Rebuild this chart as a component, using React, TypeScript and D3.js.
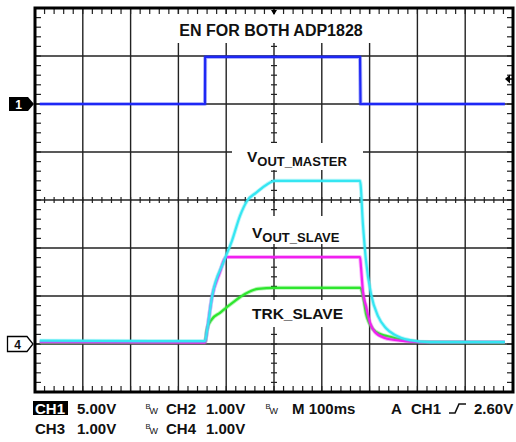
import React from "react";
import * as d3 from "d3";

// ---- data (time in ms, 100 ms/div; volts per channel) ----
const enT = [10, 355.6, 356, 680, 681, 983];
const enV = [0, 0, 4.9, 4.9, 0, 0];

const masterT = [10, 355.6, 359.8, 370.3, 395.4, 412, 428.9, 443.5, 462.3, 474.9, 502.1, 680, 686, 692.5, 703, 717.6, 734.3, 753, 784.5, 826.4, 983];
const masterV = [0.07, 0.06, 0.27, 0.98, 1.73, 2.15, 2.67, 2.98, 3.15, 3.25, 3.4, 3.4, 2.5, 1.73, 1.04, 0.58, 0.33, 0.19, 0.08, 0.04, 0.04];

const slaveT = [10, 355.6, 359.8, 370.3, 387, 395.4, 400, 680, 682, 686, 692.5, 701, 711, 732, 763.6, 805.4, 983];
const slaveV = [0.04, 0.03, 0.27, 0.98, 1.5, 1.75, 1.81, 1.81, 1.6, 1.1, 0.79, 0.44, 0.25, 0.125, 0.07, 0.04, 0.04];

const trkT = [10, 355.6, 359.8, 370.3, 387, 401.7, 418.4, 439.3, 466.5, 502, 680, 682, 688, 692.5, 699, 707, 722, 743, 763.6, 805, 983];
const trkV = [0.03, 0.03, 0.31, 0.52, 0.65, 0.77, 0.9, 1.04, 1.15, 1.17, 1.17, 1.15, 0.9, 0.63, 0.44, 0.31, 0.21, 0.15, 0.1, 0.04, 0.03];

const ch1Scale = 5; // V/div
const chScale = 1; // V/div
const ch1Offset = 2; // divisions above centre
const ch4Offset = -3;

const FONT = "'Liberation Sans', Arial, Helvetica, sans-serif";

const L = 35, T = 8, W = 478, H = 384;

export default function App() {
  const x = d3.scaleLinear().domain([0, 1000]).range([L, L + W]);
  const yd = d3.scaleLinear().domain([4, -4]).range([T, T + H]);
  const y1 = (v: number) => yd(ch1Offset + v / ch1Scale);
  const y4 = (v: number) => yd(ch4Offset + v / chScale);

  const mk = (ts: number[], vs: number[]) => ts.map((t, i) => [t, vs[i]] as [number, number]);
  const lineLin = (yf: (v: number) => number) =>
    d3.line<[number, number]>().x((d) => x(d[0])).y((d) => yf(d[1]));
  const lineSm = (yf: (v: number) => number) =>
    d3.line<[number, number]>().x((d) => x(d[0])).y((d) => yf(d[1])).curve(d3.curveMonotoneX);

  const majorX = d3.range(100, 1000, 100);
  const majorY = d3.range(-3, 4, 1);
  const minorX = d3.range(0, 1001, 20);
  const minorY = d3.range(-4, 4.001, 0.2);

  const traces = [
    { d: lineSm(y4)(mk(trkT, trkV)), c: "#2ee62e" },
    { d: lineSm(y4)(mk(slaveT, slaveV)), c: "#f020f0" },
    { d: lineSm(y4)(mk(masterT, masterV)), c: "#35e6f2" },
    { d: lineLin(y1)(mk(enT, enV)), c: "#1e28f5" },
  ];

  const boxes = [
    [175, 14, 200, 29],
    [232, 143, 131, 27],
    [244, 216, 108, 28],
    [245, 300, 105, 27],
  ];

  const tbold = { fontFamily: FONT, fontWeight: 700 as const, fill: "#111" };

  return (
    <div style={{ position: "fixed", left: 0, top: 0 }}>
      <svg width={516} height={442} style={{ display: "block", background: "#fff" }}>
        {/* grid */}
        <g stroke="#222" strokeWidth={1.4}>
          {majorX.map((t) => (
            <line key={"gx" + t} x1={x(t)} x2={x(t)} y1={T} y2={T + H} />
          ))}
          {majorY.map((v) => (
            <line key={"gy" + v} x1={L} x2={L + W} y1={yd(v)} y2={yd(v)} />
          ))}
        </g>
        {/* minor ticks */}
        <g stroke="#222" strokeWidth={1.2}>
          {minorX.map((t) => (
            <g key={"mx" + t}>
              <line x1={x(t)} x2={x(t)} y1={T} y2={T + 6} />
              <line x1={x(t)} x2={x(t)} y1={T + H - 6} y2={T + H} />
              <line x1={x(t)} x2={x(t)} y1={yd(0) - 3} y2={yd(0) + 3} />
            </g>
          ))}
          {minorY.map((v) => (
            <g key={"my" + v.toFixed(1)}>
              <line x1={L} x2={L + 6} y1={yd(v)} y2={yd(v)} />
              <line x1={L + W - 6} x2={L + W} y1={yd(v)} y2={yd(v)} />
              <line x1={x(500) - 3} x2={x(500) + 3} y1={yd(v)} y2={yd(v)} />
            </g>
          ))}
        </g>
        {/* label boxes hiding grid */}
        {boxes.map((b, i) => (
          <rect key={"b" + i} x={b[0]} y={b[1]} width={b[2]} height={b[3]} fill="#fff" />
        ))}
        {/* traces */}
        {traces.map((tr, i) => (
          <g key={"tr" + i}>
            <path d={tr.d || ""} fill="none" stroke={tr.c} strokeWidth={4} strokeOpacity={0.35} strokeLinejoin="round" />
            <path d={tr.d || ""} fill="none" stroke={tr.c} strokeWidth={2.2} strokeLinejoin="round" />
          </g>
        ))}
        {/* border */}
        <rect x={L} y={T} width={W} height={H} fill="none" stroke="#000" strokeWidth={3} />

        {/* trigger position marker */}
        <path d={`M${x(500) - 3},${T + 2} L${x(500) + 3},${T + 2} L${x(500)},${T + 7} Z`} fill="#000" />
        {/* trigger level marker */}
        <path d={`M${L + W - 8},${y1(2.6)} L${L + W - 3},${y1(2.6) - 4.5} L${L + W - 3},${y1(2.6) + 4.5} Z`} fill="#000" />
        <line x1={L + W - 4} x2={L + W} y1={y1(2.6)} y2={y1(2.6)} stroke="#000" strokeWidth={1.5} />

        {/* channel markers */}
        <path d={`M9,${y1(0) - 7} L28,${y1(0) - 7} L34,${y1(0)} L28,${y1(0) + 7} L9,${y1(0) + 7} Z`} fill="#000" />
        <text x={18.5} y={y1(0) + 4.5} textAnchor="middle" style={{ ...tbold, fill: "#fff", fontSize: 12 }}>1</text>
        <path d={`M7.5,${y4(0) - 7.5} L27,${y4(0) - 7.5} L33,${y4(0)} L27,${y4(0) + 7.5} L7.5,${y4(0) + 7.5} Z`} fill="#fff" stroke="#000" strokeWidth={1.3} />
        <text x={17.5} y={y4(0) + 4.5} textAnchor="middle" style={{ ...tbold, fontSize: 12 }}>4</text>

        {/* labels */}
        <text x={271} y={36} textAnchor="middle" style={{ ...tbold, fontSize: 16 }}>EN FOR BOTH ADP1828</text>
        <text x={247} y={162} style={{ ...tbold, fontSize: 15.5 }}>
          V<tspan dy={4} style={{ fontSize: 13 }}>OUT_MASTER</tspan>
        </text>
        <text x={252} y={238} style={{ ...tbold, fontSize: 15.5 }}>
          V<tspan dy={4} style={{ fontSize: 13 }}>OUT_SLAVE</tspan>
        </text>
        <text x={252} y={319} style={{ ...tbold, fontSize: 15.5 }}>TRK_SLAVE</text>

        {/* bottom status */}
        <rect x={33} y={401} width={35} height={14} fill="#000" />
        <text x={35} y={414} style={{ ...tbold, fill: "#fff", fontSize: 15 }}>CH1</text>
        <text x={77} y={414} style={{ ...tbold, fontSize: 15 }}>5.00V</text>
        <text x={145.5} y={409} style={{ fontFamily: FONT, fontSize: 7.5, fill: "#111" }}>B</text>
        <text x={149.5} y={414} style={{ fontFamily: FONT, fontSize: 9, fill: "#111" }}>W</text>
        <text x={166} y={414} style={{ ...tbold, fontSize: 15 }}>CH2</text>
        <text x={206} y={414} style={{ ...tbold, fontSize: 15 }}>1.00V</text>
        <text x={265.5} y={409} style={{ fontFamily: FONT, fontSize: 7.5, fill: "#111" }}>B</text>
        <text x={269.5} y={414} style={{ fontFamily: FONT, fontSize: 9, fill: "#111" }}>W</text>
        <text x={292} y={414} style={{ ...tbold, fontSize: 15 }}>M 100ms</text>
        <text x={391} y={414} style={{ ...tbold, fontSize: 15 }}>A</text>
        <text x={411} y={414} style={{ ...tbold, fontSize: 15 }}>CH1</text>
        <path d="M449,413 L455,413 L459,404 L466,404" fill="none" stroke="#111" strokeWidth={1.6} />
        <text x={474} y={414} style={{ ...tbold, fontSize: 15 }}>2.60V</text>

        <text x={35} y={434} style={{ ...tbold, fontSize: 15 }}>CH3</text>
        <text x={77} y={434} style={{ ...tbold, fontSize: 15 }}>1.00V</text>
        <text x={145.5} y={429} style={{ fontFamily: FONT, fontSize: 7.5, fill: "#111" }}>B</text>
        <text x={149.5} y={434} style={{ fontFamily: FONT, fontSize: 9, fill: "#111" }}>W</text>
        <text x={166} y={434} style={{ ...tbold, fontSize: 15 }}>CH4</text>
        <text x={206} y={434} style={{ ...tbold, fontSize: 15 }}>1.00V</text>
      </svg>
    </div>
  );
}
